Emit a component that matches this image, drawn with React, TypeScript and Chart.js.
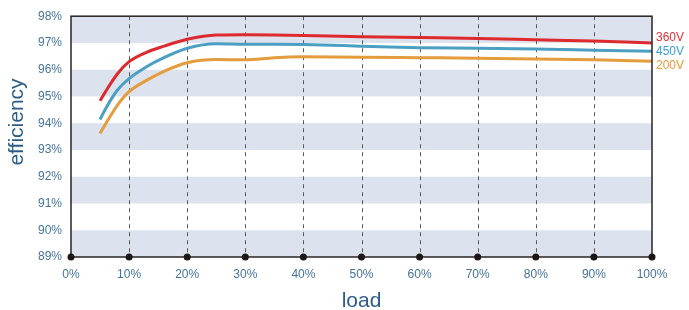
import React, { useEffect, useRef } from "react";
import { Chart, registerables } from "chart.js";

Chart.register(...registerables);

const loads = [5, 6, 8, 10, 13, 16, 20, 25, 30, 35, 40, 50, 60, 70, 80, 90, 100];
const eff360 = [94.84, 95.2, 95.85, 96.3, 96.65, 96.88, 97.14, 97.3, 97.31, 97.3, 97.28, 97.23, 97.2, 97.17, 97.12, 97.07, 97.0];
const eff450 = [94.14, 94.56, 95.24, 95.67, 96.11, 96.45, 96.8, 96.97, 96.95, 96.95, 96.94, 96.88, 96.82, 96.8, 96.77, 96.73, 96.69];
const eff200 = [93.62, 93.99, 94.68, 95.18, 95.6, 95.94, 96.26, 96.38, 96.37, 96.45, 96.48, 96.47, 96.45, 96.43, 96.4, 96.37, 96.32];
const seriesNames = ["360V", "450V", "200V"];
const seriesColors = ["#dd2a2e", "#4a9fc2", "#e49c3c"];
const labelColors = ["#e0303a", "#3a9fd8", "#e8983a"];
const bandRanges = [[97, 98], [95, 96], [93, 94], [91, 92], [89, 90]];
const yTitle = "efficiency";
const xTitle = "load";

const FONT = "'Liberation Sans', Arial, sans-serif";

const bandsPlugin = {
  id: "bands",
  beforeDatasetsDraw(chart: any) {
    const { ctx, chartArea, scales } = chart;
    ctx.save();
    ctx.fillStyle = "#dce3ef";
    for (const [a, b] of bandRanges) {
      const y1 = scales.y.getPixelForValue(b);
      const y2 = scales.y.getPixelForValue(a);
      ctx.fillRect(chartArea.left, y1, chartArea.right - chartArea.left, y2 - y1);
    }
    ctx.strokeStyle = "#5a5a5a";
    ctx.lineWidth = 1;
    ctx.setLineDash([4, 4]);
    for (const t of scales.x.ticks) {
      if (t.value === scales.x.min || t.value === scales.x.max) continue;
      const x = Math.round(scales.x.getPixelForValue(t.value)) + 0.5;
      ctx.beginPath();
      ctx.moveTo(x, chartArea.top);
      ctx.lineTo(x, chartArea.bottom);
      ctx.stroke();
    }
    ctx.restore();
  },
  afterDraw(chart: any) {
    const { ctx, chartArea, scales } = chart;
    ctx.save();
    ctx.strokeStyle = "#2a2424";
    ctx.lineWidth = 1.5;
    ctx.strokeRect(chartArea.left, chartArea.top, chartArea.right - chartArea.left, chartArea.bottom - chartArea.top);
    ctx.fillStyle = "#1e1614";
    for (const t of scales.x.ticks) {
      const x = scales.x.getPixelForValue(t.value);
      ctx.beginPath();
      ctx.arc(x, chartArea.bottom, 3.5, 0, Math.PI * 2);
      ctx.fill();
    }
    const ends = chart.data.datasets.map((d: any, i: number) => ({
      i,
      y: scales.y.getPixelForValue(d.data[d.data.length - 1].y),
      ly: 0,
    }));
    ends.sort((a: any, b: any) => a.y - b.y);
    const gap = 14;
    const mean = ends.reduce((s: number, e: any) => s + e.y, 0) / ends.length;
    ends.forEach((e: any, k: number) => {
      e.ly = mean + (k - (ends.length - 1) / 2) * gap;
    });
    ctx.font = "12px " + FONT;
    ctx.textBaseline = "middle";
    ctx.textAlign = "left";
    for (const e of ends) {
      ctx.fillStyle = labelColors[e.i];
      ctx.fillText(seriesNames[e.i], chartArea.right + 4, e.ly);
    }
    ctx.save();
    ctx.translate(17, 122);
    ctx.rotate(-Math.PI / 2);
    ctx.font = "21px " + FONT;
    ctx.fillStyle = "#2c5d88";
    ctx.textAlign = "center";
    ctx.textBaseline = "middle";
    ctx.fillText(yTitle, 0, 0);
    ctx.restore();
    ctx.restore();
  },
};

export default function App() {
  const ref = useRef<HTMLCanvasElement>(null);
  useEffect(() => {
    document.body.style.margin = "0";
    const all = [eff360, eff450, eff200];
    const chart = new Chart(ref.current!, {
      type: "line",
      data: {
        datasets: all.map((arr, i) => ({
          label: seriesNames[i],
          data: arr.map((v, k) => ({ x: loads[k], y: v })),
          borderColor: seriesColors[i],
          borderWidth: 3,
          pointRadius: 0,
          fill: false,
          tension: 0.4,
          cubicInterpolationMode: "monotone" as const,
        })),
      },
      options: {
        animation: false,
        responsive: false,
        layout: { padding: { left: 0, right: 37, top: 16, bottom: 0 } },
        plugins: { legend: { display: false }, tooltip: { enabled: false } },
        scales: {
          x: {
            type: "linear",
            min: 0,
            max: 100,
            ticks: {
              stepSize: 10,
              callback: (v: any) => v + "%",
              color: "#44739c",
              font: { family: FONT, size: 12 },
              padding: 10,
              maxRotation: 0,
            },
            grid: { display: false, drawTicks: false },
            border: { display: false },
            title: {
              display: true,
              text: xTitle,
              color: "#2c5d88",
              font: { family: FONT, size: 21 },
              padding: { top: 9, bottom: -4 },
            },
            afterFit: (s: any) => { s.height = 53; },
          },
          y: {
            min: 89,
            max: 98,
            ticks: {
              stepSize: 1,
              callback: (v: any) => v + "%",
              color: "#44739c",
              font: { family: FONT, size: 12 },
              padding: 9,
            },
            grid: { display: false, drawTicks: false },
            border: { display: false },
            afterFit: (s: any) => { s.width = 71; },
          },
        },
      },
      plugins: [bandsPlugin],
    } as any);
    return () => chart.destroy();
  }, []);
  return <canvas ref={ref} width={689} height={310} style={{ display: "block" }} />;
}
